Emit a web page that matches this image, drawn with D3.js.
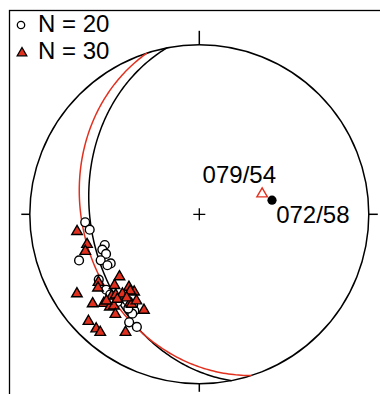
<!DOCTYPE html>
<html>
<head>
<meta charset="utf-8">
<script src="https://cdn.jsdelivr.net/npm/d3@7"></script>
<style>
  body { margin: 0; background: #fff; }
  svg { display: block; }
  text { font-family: "Liberation Sans", Arial, sans-serif; font-size: 24px; fill: #000; }
</style>
</head>
<body>
<svg id="chart" width="380" height="394"></svg>
<script>
// lower hemisphere equal-area net, values are [trend, plunge] in degrees
var openCircles = [
    [266, 33], [262, 35], [252, 41], [250, 39], [247, 40],
    [249, 25], [245, 36], [241, 40], [241, 38], [237, 30],
    [231, 30], [228, 30], [223, 30], [220, 34], [216, 34],
    [214, 32], [214, 30], [213, 25], [209, 25], [217, 31]
];
var redTriangles = [
    [262, 28], [255, 32], [252, 30], [237, 15], [232, 40],
    [236, 29], [234, 27], [230, 35], [224, 40], [220, 40],
    [227, 30], [226, 32], [224, 35], [222, 39], [230, 19],
    [227, 24], [224, 25], [223, 27], [220, 24], [218, 34],
    [217, 34], [210, 35], [226, 10], [222, 10], [220, 10],
    [212, 19], [227, 26], [224, 31], [216, 37], [221, 35]
];
// mean poles (their planes are drawn as great circles)
var meanPoleBlack = [79, 54];
var meanPoleRed = [72, 58];
var legendLabels = ["N = 20", "N = 30"];
var poleLabels = ["079/54", "072/58"];

var RED = "#e2301f";
var cx = 199.3, cy = 214.3, R = 169.5;

var svg = d3.select("#chart");

var x = d3.scaleLinear().domain([-1, 1]).range([cx - R, cx + R]);
var y = d3.scaleLinear().domain([-1, 1]).range([cy + R, cy - R]);

var rad = Math.PI / 180;

// direction cosines (east, north, down) -> equal-area coords
function projectVec(e, n, d) {
    var k = 1 / Math.sqrt(1 + d);
    return [x(e * k), y(n * k)];
}
function projectLine(tp) {
    var t = tp[0] * rad, p = tp[1] * rad;
    return projectVec(Math.cos(p) * Math.sin(t), Math.cos(p) * Math.cos(t), Math.sin(p));
}
function greatCircle(pole) {
    var dd = (pole[0] + 180) * rad,
        dip = (90 - pole[1]) * rad,
        s = dd - 90 * rad;
    return d3.range(0, 181, 1).map(function (a) {
        var th = a * rad;
        var e = Math.cos(th) * Math.sin(s) + Math.sin(th) * Math.cos(dip) * Math.sin(dd),
            n = Math.cos(th) * Math.cos(s) + Math.sin(th) * Math.cos(dip) * Math.cos(dd),
            d = Math.sin(th) * Math.sin(dip);
        return projectVec(e, n, d);
    });
}

/* frame */
svg.append("rect")
    .attr("x", 9.5).attr("y", 10.5)
    .attr("width", 420).attr("height", 420)
    .attr("fill", "none")
    .attr("stroke", "#000")
    .attr("stroke-width", 1.3);

/* primitive circle + ticks */
svg.append("circle")
    .attr("cx", x(0)).attr("cy", y(0)).attr("r", R)
    .attr("fill", "none").attr("stroke", "#000").attr("stroke-width", 1.5);

var ticks = [[0, 1, 14], [1, 0, 9], [0, -1, 8], [-1, 0, 8.5]];
svg.selectAll("line.tick")
    .data(ticks)
    .enter().append("line")
    .classed("tick", true)
    .attr("x1", function (d) { return x(d[0]); })
    .attr("y1", function (d) { return y(d[1]); })
    .attr("x2", function (d) { return x(d[0]) + d[0] * d[2]; })
    .attr("y2", function (d) { return y(d[1]) - d[1] * d[2]; })
    .attr("stroke", "#000").attr("stroke-width", 1.5);

// centre cross
svg.append("path")
    .attr("d", "M" + (x(0) - 6) + "," + y(0) + "H" + (x(0) + 6) +
               "M" + x(0) + "," + (y(0) - 6) + "V" + (y(0) + 6))
    .attr("stroke", "#000").attr("stroke-width", 1.3);

/* great circles */
var line = d3.line();
svg.append("path")
    .attr("d", line(greatCircle(meanPoleBlack)))
    .attr("fill", "none").attr("stroke", "#000").attr("stroke-width", 1.5);
svg.append("path")
    .attr("d", line(greatCircle(meanPoleRed)))
    .attr("fill", "none").attr("stroke", RED).attr("stroke-width", 1.5);

/* data points */
var tri = d3.symbol().type(d3.symbolTriangle).size(48);

svg.append("g").selectAll("circle")
    .data(openCircles)
    .enter().append("circle")
    .attr("cx", function (d) { return projectLine(d)[0]; })
    .attr("cy", function (d) { return projectLine(d)[1]; })
    .attr("r", 4.4)
    .attr("fill", "#fff").attr("stroke", "#000").attr("stroke-width", 1.4);

svg.append("g").selectAll("path")
    .data(redTriangles)
    .enter().append("path")
    .attr("d", tri)
    .attr("transform", function (d) { var p = projectLine(d); return "translate(" + p + ")"; })
    .attr("fill", RED).attr("stroke", "#000").attr("stroke-width", 1.4);

/* mean poles + labels */
var pb = projectLine(meanPoleBlack), pr = projectLine(meanPoleRed);
svg.append("path")
    .attr("d", tri)
    .attr("transform", "translate(" + pr + ")")
    .attr("fill", "#fff").attr("stroke", RED).attr("stroke-width", 1.4);
svg.append("circle")
    .attr("cx", pb[0]).attr("cy", pb[1]).attr("r", 4.6)
    .attr("fill", "#000");

svg.append("text")
    .attr("x", pb[0] + 4).attr("y", pb[1] - 17)
    .attr("text-anchor", "end")
    .text(poleLabels[0]);
svg.append("text")
    .attr("x", pr[0] + 14).attr("y", pr[1] + 29)
    .text(poleLabels[1]);

/* legend */
var legend = svg.append("g").attr("transform", "translate(21,0)");
legend.append("circle")
    .attr("cx", 0).attr("cy", 25).attr("r", 3.7)
    .attr("fill", "#fff").attr("stroke", "#000").attr("stroke-width", 1.3);
legend.append("path")
    .attr("d", d3.symbol().type(d3.symbolTriangle).size(40))
    .attr("transform", "translate(1,53)")
    .attr("fill", RED).attr("stroke", "#000").attr("stroke-width", 1.3);
legend.selectAll("text")
    .data(legendLabels)
    .enter().append("text")
    .attr("x", 17)
    .attr("y", function (d, i) { return 32 + i * 26.5; })
    .text(function (d) { return d; });
</script>
</body>
</html>
